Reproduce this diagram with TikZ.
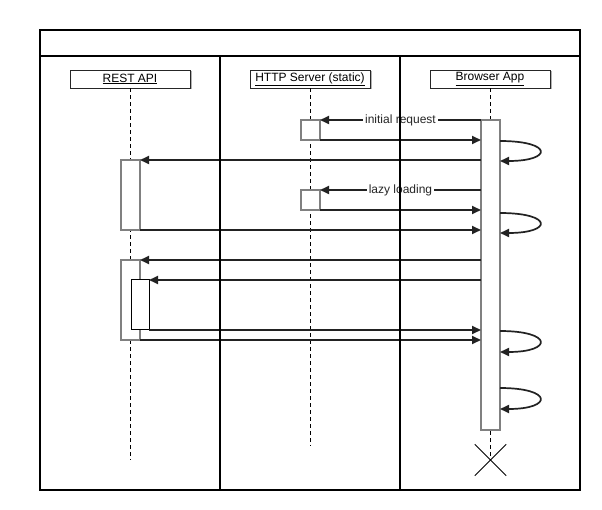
\documentclass[tikz,border=0pt]{standalone}
\usepackage{fontspec}
\setmainfont{Liberation Sans}
\usetikzlibrary{arrows.meta}
\definecolor{msgcol}{HTML}{222222}
\definecolor{barcol}{HTML}{808080}
\tikzset{
  frameline/.style={line width=2pt, black},
  headbox/.style={draw=black!85, line width=0.8pt, fill=white, minimum width=120pt, minimum height=18pt, inner sep=0pt, font=\fontsize{12}{14}\selectfont},
  headshadow/.style={fill=black!30, draw=none, minimum width=120pt, minimum height=18pt, inner sep=0pt},
  lifeline/.style={black, line width=0.9pt, dash pattern=on 4pt off 3pt},
  actbar/.style={draw=barcol, line width=1.3pt, fill=white, inner sep=0pt, outer sep=0pt, minimum width=19pt},
  innerbar/.style={draw=black, line width=1pt, fill=white, inner sep=0pt, outer sep=0pt, minimum width=18pt},
  msg/.style={draw=msgcol, line width=1.7pt, -{Triangle[length=9pt,width=8pt]}},
  msglabel/.style={fill=white, inner sep=2pt, font=\fontsize{12}{14}\selectfont, text=black!85},
}
\begin{document}
\begin{tikzpicture}[x=1pt,y=-1pt]
\useasboundingbox (0,0) rectangle (602,510);
% outer frame
\draw[frameline] (40,30) rectangle (580,490);
\draw[frameline] (40,56) -- (580,56);
% lifeline heads
\node[headshadow] at (131.5,80.5) {};
\node[headshadow] at (311.5,80.5) {};
\node[headshadow] at (491.5,80.5) {};
\node[headbox] (rest) at (130,79) {\underline{REST API}};
\node[headbox] (http) at (310,79) {\underline{HTTP Server (static)}};
\node[headbox] (brow) at (490,79) {\underline{Browser App}};
% lifeline ends
\coordinate (restend) at (130.5,460);
\coordinate (httpend) at (310.5,446);
\node[minimum size=31pt, inner sep=0pt] (xend) at (490.5,460) {};
% dashed lifelines
\draw[lifeline] (rest.south -| restend) -- (restend);
\draw[lifeline] (http.south -| httpend) -- (httpend);
\draw[lifeline] (brow.south -| xend) -- (xend.center);
% activation bars
\node[actbar, minimum height=310pt] (bar) at (490.5,275) {};
\node[actbar, minimum height=20pt] (h1) at (310.5,130) {};
\node[actbar, minimum height=20pt] (h2) at (310.5,200) {};
\node[actbar, minimum height=70pt] (r1) at (130.5,195) {};
\node[actbar, minimum height=80pt] (r2) at (130.5,300) {};
\node[innerbar, minimum height=50pt] (r3) at (140,305) {};
% end cross
\draw[line width=1pt] (xend.north west) -- (xend.south east);
\draw[line width=1pt] (xend.north east) -- (xend.south west);
% messages to HTTP server
\draw[msg] (h1.north east -| bar.west) -- node[msglabel, pos=0.5] {initial request} (h1.north east);
\draw[msg] (h1.south east) -- (h1.south east -| bar.west);
\draw[msg] (h2.north east -| bar.west) -- node[msglabel, pos=0.5] {lazy loading} (h2.north east);
\draw[msg] (h2.south east) -- (h2.south east -| bar.west);
% messages to REST API
\draw[msg] (r1.north east -| bar.west) -- (r1.north east);
\draw[msg] (r1.south east) -- (r1.south east -| bar.west);
\draw[msg] (r2.north east -| bar.west) -- (r2.north east);
\draw[msg] (r3.north east -| bar.west) -- (r3.north east);
\draw[msg] (r3.south east) -- (r3.south east -| bar.west);
\draw[msg] (r2.south east) -- (r2.south east -| bar.west);
% self calls
\coordinate (s1a) at (500,141); \coordinate (s1b) at (500,161);
\coordinate (s2a) at (500,213); \coordinate (s2b) at (500,233);
\coordinate (s3a) at (500,331); \coordinate (s3b) at (500,352);
\coordinate (s4a) at (500,388); \coordinate (s4b) at (500,409);
\draw[msg] (s1a) .. controls (553,141) and (553,161) .. (s1b);
\draw[msg] (s2a) .. controls (553,213) and (553,233) .. (s2b);
\draw[msg] (s3a) .. controls (553,331) and (553,352) .. (s3b);
\draw[msg] (s4a) .. controls (553,388) and (553,409) .. (s4b);
% column dividers
\draw[frameline] (220,56) -- (220,490);
\draw[frameline] (400,56) -- (400,490);
\end{tikzpicture}
\end{document}
